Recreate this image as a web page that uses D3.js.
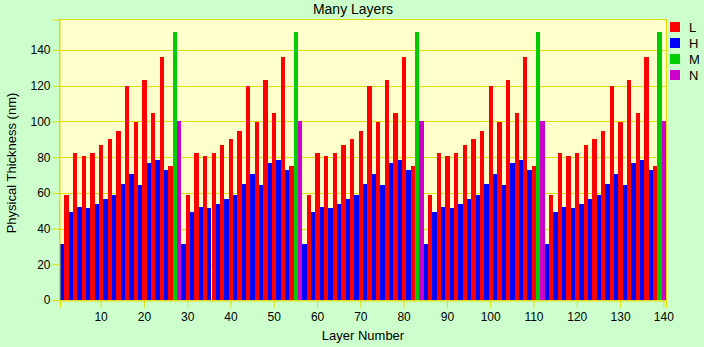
<!DOCTYPE html>
<html>
<head>
<meta charset="utf-8">
<script src="https://cdn.jsdelivr.net/npm/d3@7"></script>
<style>
  html, body { margin: 0; padding: 0; background: #ccffcc; }
  svg { display: block; font-family: "Liberation Sans", Arial, sans-serif; }
</style>
</head>
<body>
<svg id="chart" width="704" height="347"></svg>
<script>
// Layer numbers 1..140
const layers = [
  1,2,3,4,5,6,7,8,9,10,11,12,13,14,15,16,17,18,19,20,21,22,23,24,25,26,27,28,
  29,30,31,32,33,34,35,36,37,38,39,40,41,42,43,44,45,46,47,48,49,50,51,52,53,54,55,56,
  57,58,59,60,61,62,63,64,65,66,67,68,69,70,71,72,73,74,75,76,77,78,79,80,81,82,83,84,
  85,86,87,88,89,90,91,92,93,94,95,96,97,98,99,100,101,102,103,104,105,106,107,108,109,110,111,112,
  113,114,115,116,117,118,119,120,121,122,123,124,125,126,127,128,129,130,131,132,133,134,135,136,137,138,139,140
];

// Material of each layer
const materials = [
  "H","L","H","L","H","L","H","L","H","L","H","L","H","L","H","L","H","L","H","L","H","L","H","L","H","L","M","N",
  "H","L","H","L","H","L","H","L","H","L","H","L","H","L","H","L","H","L","H","L","H","L","H","L","H","L","M","N",
  "H","L","H","L","H","L","H","L","H","L","H","L","H","L","H","L","H","L","H","L","H","L","H","L","H","L","M","N",
  "H","L","H","L","H","L","H","L","H","L","H","L","H","L","H","L","H","L","H","L","H","L","H","L","H","L","M","N",
  "H","L","H","L","H","L","H","L","H","L","H","L","H","L","H","L","H","L","H","L","H","L","H","L","H","L","M","N"
];

// Physical thickness of each layer (nm)
const thickness = [
  31.4,58.8,49.3,82.3,52.1,80.6,51.5,82.3,53.8,86.8,56.6,90.1,58.8,94.6,64.9,119.8,70.5,99.7,64.4,123.2,76.7,104.7,78.4,136.0,72.8,75.0,150.0,100.2,
  31.4,58.8,49.3,82.3,52.1,80.6,51.5,82.3,53.8,86.8,56.6,90.1,58.8,94.6,64.9,119.8,70.5,99.7,64.4,123.2,76.7,104.7,78.4,136.0,72.8,75.0,150.0,100.2,
  31.4,58.8,49.3,82.3,52.1,80.6,51.5,82.3,53.8,86.8,56.6,90.1,58.8,94.6,64.9,119.8,70.5,99.7,64.4,123.2,76.7,104.7,78.4,136.0,72.8,75.0,150.0,100.2,
  31.4,58.8,49.3,82.3,52.1,80.6,51.5,82.3,53.8,86.8,56.6,90.1,58.8,94.6,64.9,119.8,70.5,99.7,64.4,123.2,76.7,104.7,78.4,136.0,72.8,75.0,150.0,100.2,
  31.4,58.8,49.3,82.3,52.1,80.6,51.5,82.3,53.8,86.8,56.6,90.1,58.8,94.6,64.9,119.8,70.5,99.7,64.4,123.2,76.7,104.7,78.4,136.0,72.8,75.0,150.0,100.2
];

const legendKeys = ["L", "H", "M", "N"];
const legendColors = ["#ff0000", "#0000ff", "#00cc00", "#cc00cc"];
const xTicks = [10, 20, 30, 40, 50, 60, 70, 80, 90, 100, 110, 120, 130, 140];
const yTicks = [0, 20, 40, 60, 80, 100, 120, 140];

const gridColor = "#dddd00";
const textColor = "#000000";

const plot = { left: 60, right: 666, top: 19.5, bottom: 300 };

const svg = d3.select("#chart");

const color = d3.scaleOrdinal().domain(legendKeys).range(legendColors);

const x = d3.scaleBand()
  .domain(layers)
  .range([plot.left, plot.right])
  .paddingInner(0)
  .paddingOuter(0);

const y = d3.scaleLinear()
  .domain([0, 157.1])
  .range([plot.bottom, plot.top]);

// Plot background
svg.append("rect")
  .attr("x", plot.left - 0.5)
  .attr("y", plot.top)
  .attr("width", plot.right - plot.left + 1)
  .attr("height", plot.bottom - plot.top)
  .attr("fill", "#ffffcc")
  .attr("stroke", gridColor)
  .attr("stroke-width", 1);

// Horizontal grid lines
svg.append("g")
  .selectAll("line")
  .data(yTicks.filter(d => d > 0))
  .join("line")
  .attr("x1", plot.left)
  .attr("x2", plot.right + 0.5)
  .attr("y1", d => Math.round(y(d)) + 0.5)
  .attr("y2", d => Math.round(y(d)) + 0.5)
  .attr("stroke", gridColor)
  .attr("stroke-width", 1);

// Bars: edges snapped to whole pixels so neighbouring layers touch
const left = d => Math.round(x(d));
const right = d => Math.round(x(d) + x.bandwidth());
svg.append("g")
  .attr("shape-rendering", "crispEdges")
  .selectAll("rect")
  .data(layers.map((l, i) => ({ layer: l, value: thickness[i], mat: materials[i] })))
  .join("rect")
  .attr("x", d => left(d.layer))
  .attr("width", d => right(d.layer) - left(d.layer))
  .attr("y", d => Math.round(y(d.value)))
  .attr("height", d => y(0) - Math.round(y(d.value)))
  .attr("fill", d => color(d.mat));

// Y axis
const yAxis = svg.append("g")
  .attr("transform", `translate(${plot.left - 0.5},0)`)
  .call(d3.axisLeft(y).tickValues(yTicks).tickSize(7).tickPadding(2).tickFormat(d3.format("d")));
yAxis.select(".domain").attr("stroke", gridColor);
yAxis.selectAll(".tick line").attr("stroke", gridColor);
yAxis.selectAll(".tick text")
  .attr("fill", textColor)
  .style("font-size", "12px")
  .style("font-family", "'Liberation Sans', Arial, sans-serif");

// X axis
const xAxis = svg.append("g")
  .attr("transform", `translate(0,${plot.bottom + 0.5})`)
  .call(d3.axisBottom(x).tickValues(xTicks).tickSize(7).tickPadding(5));
xAxis.select(".domain").attr("stroke", gridColor);
xAxis.selectAll(".tick line").attr("stroke", gridColor);
xAxis.selectAll(".tick text")
  .attr("fill", textColor)
  .style("font-size", "12px")
  .style("font-family", "'Liberation Sans', Arial, sans-serif");

// Title
svg.append("text")
  .attr("x", 353)
  .attr("y", 14)
  .attr("text-anchor", "middle")
  .attr("fill", textColor)
  .style("font-size", "14px")
  .text("Many Layers");

// Axis titles
svg.append("text")
  .attr("x", (plot.left + plot.right) / 2)
  .attr("y", 339.5)
  .attr("text-anchor", "middle")
  .attr("fill", textColor)
  .style("font-size", "13px")
  .text("Layer Number");

svg.append("text")
  .attr("transform", "translate(15.5,163) rotate(-90)")
  .attr("text-anchor", "middle")
  .attr("fill", textColor)
  .style("font-size", "13px")
  .text("Physical Thickness (nm)");

// Legend
const legend = svg.append("g")
  .selectAll("g")
  .data(legendKeys)
  .join("g")
  .attr("transform", (d, i) => `translate(670,${22 + i * 16})`);
legend.append("rect")
  .attr("width", 10)
  .attr("height", 10)
  .attr("fill", d => color(d));
legend.append("text")
  .attr("x", 19)
  .attr("y", 9.5)
  .attr("fill", textColor)
  .style("font-size", "13px")
  .text(d => d);
</script>
</body>
</html>
